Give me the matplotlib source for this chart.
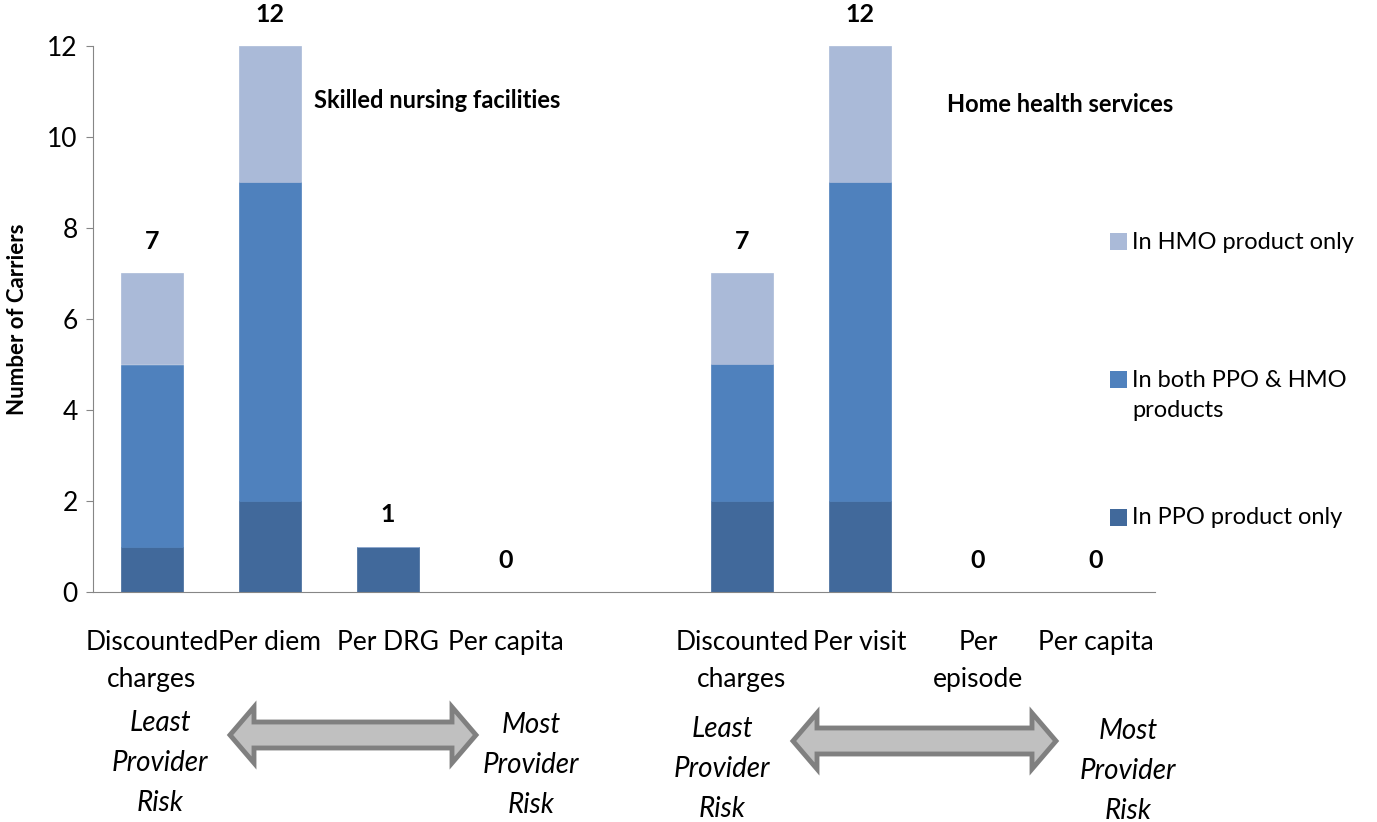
import matplotlib
matplotlib.use("Agg")
import matplotlib.pyplot as plt
from matplotlib.patches import Polygon, Rectangle
import numpy as np

# ---- data ----
categories = ["Discounted\ncharges", "Per diem", "Per DRG", "Per capita", "",
              "Discounted\ncharges", "Per visit", "Per\nepisode", "Per capita"]
ppo_only = [1, 2, 1, 0, 0, 2, 2, 0, 0]
both_ppo_hmo = [4, 7, 0, 0, 0, 3, 7, 0, 0]
hmo_only = [2, 3, 0, 0, 0, 2, 3, 0, 0]
has_label = [True, True, True, True, False, True, True, True, True]
series_names = ["In PPO product only", "In both PPO & HMO\nproducts", "In HMO product only"]
yticks = [0, 2, 4, 6, 8, 10, 12]
group_titles = ["Skilled nursing facilities", "Home health services"]
risk_low = "Least\nProvider\nRisk"
risk_high = "Most\nProvider\nRisk"

plt.rcParams['font.family'] = ['Lato', 'DejaVu Sans']

W, H = 1377, 822
fig = plt.figure(figsize=(W / 100, H / 100), dpi=100)

def fx(x):
    return x / W

def fy(y):
    return 1 - y / H

ax = fig.add_axes([fx(93), fy(592), (1155 - 93) / W, (592 - 46) / H])

c_ppo = "#41699B"
c_both = "#4F81BD"
c_hmo = "#AABAD8"
colors = [c_ppo, c_both, c_hmo]

x = np.arange(len(categories))
ppo = np.array(ppo_only)
both = np.array(both_ppo_hmo)
hmo = np.array(hmo_only)
bw = 0.52
b1 = ax.bar(x, ppo, bw, color=c_ppo, edgecolor=c_ppo, linewidth=0.5, label=series_names[0])
b2 = ax.bar(x, both, bw, bottom=ppo, color=c_both, edgecolor=c_both, linewidth=0.5,
            label=series_names[1])
b3 = ax.bar(x, hmo, bw, bottom=ppo + both, color=c_hmo, edgecolor=c_hmo, linewidth=0.5,
            label=series_names[2])

totals = ppo + both + hmo
for xi, t, lab in zip(x, totals, has_label):
    if lab:
        ax.annotate(str(int(t)), (xi, t), xytext=(0, 23), textcoords="offset points",
                    ha="center", va="center", fontsize=18, fontweight="bold",
                    annotation_clip=False)

ax.set_xlim(-0.5, len(categories) - 0.5)
ax.set_ylim(0, 12)
ax.set_yticks(yticks)
ax.set_yticklabels([str(v) for v in yticks], fontsize=19)
ticks_idx = [i for i, c in enumerate(categories) if c]
ax.set_xticks(ticks_idx)
ax.set_xticklabels([categories[i] for i in ticks_idx], fontsize=19, linespacing=1.6)
ax.tick_params(axis="x", length=0, pad=27)
ax.tick_params(axis="y", length=5, color="#868686", pad=6)
for s in ["top", "right"]:
    ax.spines[s].set_visible(False)
for s in ["left", "bottom"]:
    ax.spines[s].set_color("#868686")
ax.set_ylabel("Number of Carriers", fontsize=16, fontweight="bold")
ax.yaxis.set_label_coords((28 - 93) / 1062, 0.5)

fig.text(fx(437), fy(101), group_titles[0], ha="center", va="center",
         fontsize=17, fontweight="bold")
fig.text(fx(1060), fy(105), group_titles[1], ha="center", va="center",
         fontsize=17, fontweight="bold")

# legend (manual, Excel-style placement)
leg_y = [517, 380, 242]  # marker centres in px for PPO, both, HMO
for name, col, yy in zip(series_names, colors, leg_y):
    fig.patches.append(Rectangle((fx(1110), fy(yy + 8.5)), 17 / W, 17 / H,
                                 transform=fig.transFigure, facecolor=col,
                                 edgecolor="none"))
    fig.text(fx(1132), fy(yy - 10), name, ha="left", va="top", fontsize=17,
             linespacing=1.5)

def darrow(x0, x1, yc, sh=13, hh=28, hl=24):
    pts = [(x0, yc), (x0 + hl, yc - hh), (x0 + hl, yc - sh), (x1 - hl, yc - sh),
           (x1 - hl, yc - hh), (x1, yc), (x1 - hl, yc + hh), (x1 - hl, yc + sh),
           (x0 + hl, yc + sh), (x0 + hl, yc + hh)]
    pts = [(fx(a), fy(b)) for a, b in pts]
    p = Polygon(pts, closed=True, transform=fig.transFigure, facecolor="#C0C0C0",
                edgecolor="#808080", linewidth=3.5, joinstyle="miter")
    fig.patches.append(p)

darrow(230, 476, 735)
darrow(793, 1056, 741)

for xc, yc, t in [(160, 763, risk_low), (531, 765, risk_high),
                  (722, 769, risk_low), (1128, 771, risk_high)]:
    fig.text(fx(xc), fy(yc), t, ha="center", va="center", fontsize=20,
             style="italic", linespacing=1.66)

fig.savefig("out.png", dpi=100)
